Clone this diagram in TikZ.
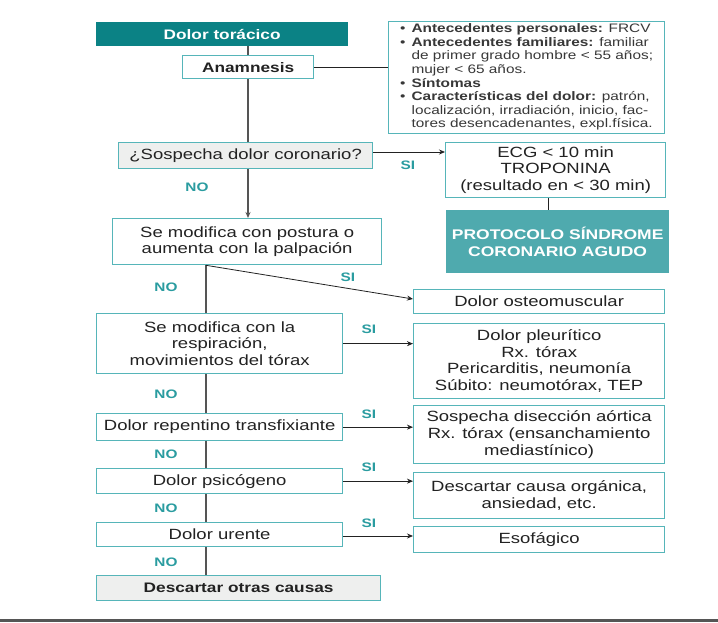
\documentclass[tikz,border=0pt]{standalone}
\usepackage{fontspec}
\setmainfont{Liberation Sans}[FakeStretch=1.25]
\usetikzlibrary{arrows.meta}
\definecolor{tealdark}{HTML}{0B8285}
\definecolor{tealborder}{HTML}{56B5B9}
\definecolor{tealfill}{HTML}{4FAAAE}
\definecolor{teallbl}{HTML}{2A9CA0}
\definecolor{lightgr}{HTML}{EEEFEE}
\definecolor{txt}{HTML}{222222}
\definecolor{linegr}{HTML}{555555}
\tikzset{
  box/.style={draw=tealborder, line width=1.3pt, fill=white, inner sep=0pt,
    align=center, text=txt, anchor=north west,
    font=\fontsize{14.8}{16.6}\selectfont},
  graybox/.style={box, fill=lightgr},
  lbl/.style={text=teallbl, font=\fontsize{12.3}{14}\selectfont\bfseries},
  trunk/.style={draw=linegr, line width=1.4pt},
  arr/.style={draw=txt, line width=0.8pt, -{Stealth[length=6pt,width=5pt]}},
  thin/.style={draw=txt, line width=0.8pt}
}
\begin{document}
\begin{tikzpicture}[x=1pt,y=-1pt]
\useasboundingbox (0,0) rectangle (718,622);
\fill[white] (0,0) rectangle (718,622);
\fill[linegr] (0,619) rectangle (718,622);

% nodes
\node[box, draw=tealdark, fill=tealdark, text=white, minimum width=251, minimum height=23,
  font=\fontsize{13.8}{16}\selectfont\bfseries] (tor) at (96,22) {Dolor torácico};
\node[box, minimum width=131, minimum height=23, font=\fontsize{13.8}{16}\selectfont\bfseries] (anam) at (182,55) {Anamnesis};
\node[box, minimum width=276, minimum height=112, font=\fontsize{12.3}{13.6}\selectfont, text=txt!90] (info) at (388,21) {%
\begin{tabular}{@{}l@{\hspace{6pt}}l@{}}
\textbullet & \textbf{Antecedentes personales:} FRCV\\
\textbullet & \textbf{Antecedentes familiares:} familiar\\
 & de primer grado hombre < 55 años;\\
 & mujer < 65 años.\\
\textbullet & \textbf{Síntomas}\\
\textbullet & \textbf{Características del dolor:} patrón,\\
 & localización, irradiación, inicio, fac-\\
 & tores desencadenantes, expl.física.
\end{tabular}};
\node[graybox, minimum width=254, minimum height=26] (sosp) at (118,142) {¿Sospecha dolor coronario?};
\node[box, minimum width=220, minimum height=55] (ecg) at (445,142) {ECG < 10 min\\TROPONINA\\(resultado en < 30 min)};
\node[box, draw=tealfill, fill=tealfill, text=white, minimum width=222, minimum height=62,
  font=\fontsize{14}{17.5}\selectfont\bfseries] (prot) at (446,210) {PROTOCOLO SÍNDROME\\CORONARIO AGUDO};
\node[box, minimum width=269, minimum height=46] (post) at (112,218) {Se modifica con postura o\\aumenta con la palpación};
\node[box, minimum width=251, minimum height=24] (osteo) at (413,289) {Dolor osteomuscular};
\node[box, minimum width=246, minimum height=60] (resp) at (96,313) {Se modifica con la\\respiración,\\movimientos del tórax};
\node[box, minimum width=251, minimum height=75] (pleu) at (413,323) {Dolor pleurítico\\Rx. tórax\\Pericarditis, neumonía\\Súbito: neumotórax, TEP};
\node[box, minimum width=246, minimum height=27] (rep) at (96,413) {Dolor repentino transfixiante};
\node[box, minimum width=251, minimum height=58] (aort) at (413,405) {Sospecha disección aórtica\\Rx. tórax (ensanchamiento\\mediastínico)};
\node[box, minimum width=246, minimum height=25] (psic) at (96,468) {Dolor psicógeno};
\node[box, minimum width=251, minimum height=46] (org) at (413,472) {Descartar causa orgánica,\\ansiedad, etc.};
\node[box, minimum width=246, minimum height=24] (ure) at (96,522) {Dolor urente};
\node[box, minimum width=251, minimum height=26] (eso) at (413,526) {Esofágico};
\node[graybox, minimum width=284, minimum height=25, font=\fontsize{13.8}{16}\selectfont\bfseries] (otras) at (96,575) {Descartar otras causas};

% top trunk
\coordinate (t1) at (248,0);
\draw[trunk] (tor.south -| t1) -- (anam.north -| t1);
\draw[trunk] (anam.south -| t1) -- (sosp.north -| t1);
\draw[trunk, -{Stealth[length=6pt,width=5pt]}] (sosp.south -| t1) -- (post.north -| t1);
\draw[thin] (anam.east) -- (anam.east -| info.west);

% coronary branch
\draw[arr] (sosp.east |- 0,152) -- (ecg.west |- 0,152);
\coordinate (e1) at (548,0);
\draw[thin] (ecg.south -| e1) -- (prot.north -| e1);

% lower trunk
\coordinate (t2) at (206,0);
\draw[trunk] (post.south -| t2) -- (resp.north -| t2);
\draw[trunk] (resp.south -| t2) -- (rep.north -| t2);
\draw[trunk] (rep.south -| t2) -- (psic.north -| t2);
\draw[trunk] (psic.south -| t2) -- (ure.north -| t2);
\draw[trunk] (ure.south -| t2) -- (otras.north -| t2);

% SI branches
\draw[arr] (post.south -| t2) -- (osteo.west |- 0,299);
\draw[arr] (resp.east) -- (resp.east -| pleu.west);
\draw[arr] (rep.east) -- (rep.east -| aort.west);
\draw[arr] (psic.east) -- (psic.east -| org.west);
\draw[arr] (ure.east |- 0,536) -- (org.west |- 0,536);

% labels
\node[lbl] (si1) at (408,165) {SI};
\node[lbl] (no1) at (197,187) {NO};
\node[lbl] (si2) at (348,277) {SI};
\node[lbl] (no2) at (166,287) {NO};
\node[lbl] (si3) at (369,329) {SI};
\node[lbl] (no3) at (166,394) {NO};
\node[lbl] (si4) at (369,414) {SI};
\node[lbl] (no4) at (166,454) {NO};
\node[lbl] (si5) at (369,467) {SI};
\node[lbl] (no5) at (166,508) {NO};
\node[lbl] (si6) at (369,523) {SI};
\node[lbl] (no6) at (166,562) {NO};
\end{tikzpicture}
\end{document}
